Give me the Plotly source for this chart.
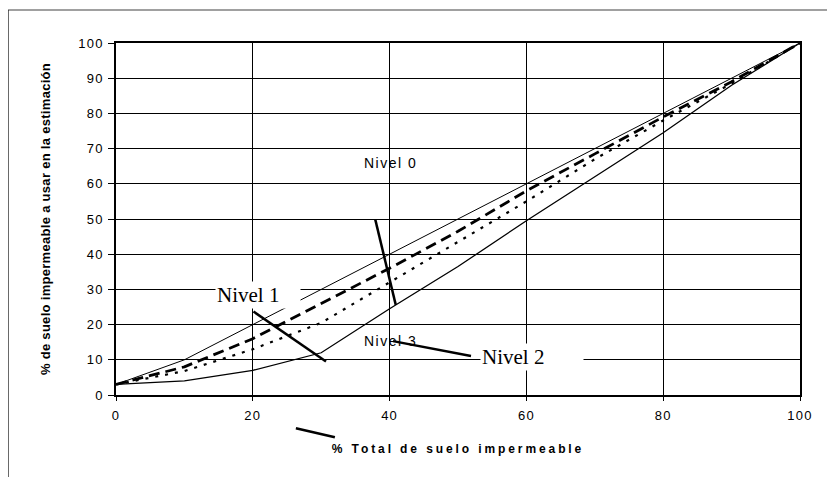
import plotly.graph_objects as go

x_vals = [0, 10, 20, 30, 40, 50, 60, 70, 80, 90, 100]
nivel0 = [3, 10, 20, 30, 40, 50, 60, 70, 80, 90, 100]
nivel1 = [3, 8, 16, 26, 36, 46.5, 58, 68.5, 79, 89, 100]
nivel2 = [3, 6.8, 13, 20.5, 32, 43.5, 55, 67, 78, 88.5, 100]
nivel3 = [3, 4, 7, 12, 24.5, 36.5, 49.5, 62, 74.5, 88, 100]

x_ticks = [0, 20, 40, 60, 80, 100]
y_ticks = [0, 10, 20, 30, 40, 50, 60, 70, 80, 90, 100]


def spaced(t, ls):
    return f'<span style="letter-spacing:{ls}px">{t}</span>'


fig = go.Figure()
fig.add_trace(go.Scatter(x=x_vals, y=nivel0, mode="lines", name="Nivel 0",
                         line=dict(color="black", width=1)))
fig.add_trace(go.Scatter(x=x_vals, y=nivel1, mode="lines", name="Nivel 1",
                         line=dict(color="black", width=2.8, dash="11px,6px")))
fig.add_trace(go.Scatter(x=x_vals, y=nivel2, mode="lines", name="Nivel 2",
                         line=dict(color="black", width=2.2, dash="3px,7px")))
fig.add_trace(go.Scatter(x=x_vals, y=nivel3, mode="lines", name="Nivel 3",
                         line=dict(color="black", width=1.3)))

serif = dict(family="Liberation Serif", size=21, color="black")
sans = dict(family="Liberation Sans", size=14, color="black")
annotations = [
    dict(x=40.2, y=65.9, text=spaced("Nivel 0", 1.5), font=sans, showarrow=False,
         xref="x", yref="y", xanchor="center", yanchor="middle"),
    dict(x=14.4, y=28.4, text="Nivel 1", font=serif, showarrow=False,
         xref="x", yref="y", xanchor="left", yanchor="middle",
         bgcolor="white", width=82, align="left"),
    dict(x=40.2, y=15.3, text=spaced("Nivel 3", 1.5), font=sans, showarrow=False,
         xref="x", yref="y", xanchor="center", yanchor="middle"),
    dict(x=53.2, y=10.8, text="Nivel 2", font=serif, showarrow=False,
         xref="x", yref="y", xanchor="left", yanchor="middle",
         bgcolor="white", width=100, align="left"),
]

shapes = [
    dict(type="line", xref="x", yref="y", x0=37.9, y0=49.9, x1=40.9, y1=25.6,
         line=dict(color="black", width=2.5)),
    dict(type="line", xref="x", yref="y", x0=20.1, y0=23.7, x1=30.7, y1=9.5,
         line=dict(color="black", width=2.5)),
    dict(type="line", xref="x", yref="y", x0=40.5, y0=15.3, x1=51.9, y1=11.1,
         line=dict(color="black", width=2.5)),
    dict(type="line", xref="paper", yref="paper", x0=0.263, y0=-0.0946, x1=0.320, y1=-0.120,
         line=dict(color="black", width=2.5)),
    # outer frame
    dict(type="line", xref="paper", yref="paper", x0=-0.158, y0=1.0937, x1=1.08, y1=1.0937,
         line=dict(color="#808080", width=1.5)),
    dict(type="line", xref="paper", yref="paper", x0=-0.158, y0=1.0937, x1=-0.158, y1=-0.28,
         line=dict(color="#222222", width=1.5)),
]

fig.update_layout(
    width=835, height=477,
    margin=dict(l=108, r=43, t=35, b=90),
    paper_bgcolor="white", plot_bgcolor="white",
    showlegend=False,
    annotations=annotations,
    shapes=shapes,
    font=dict(family="Liberation Sans", size=12, color="black"),
)
fig.update_xaxes(
    range=[0, 100], tickvals=x_ticks, ticktext=[spaced(str(v), 1.2) for v in x_ticks],
    showgrid=True, gridcolor="black", gridwidth=1,
    showline=True, linecolor="black", linewidth=1.5, mirror=True,
    ticks="outside", ticklen=4, tickcolor="black", ticklabelstandoff=4,
    zeroline=False, automargin=False,
    tickfont=dict(family="Liberation Sans", size=13, color="black"),
    title=dict(text=spaced("<b>% Total de suelo impermeable</b>", 2.9),
               font=dict(family="Liberation Sans", size=12, color="black"),
               standoff=22),
)
fig.update_yaxes(
    range=[0, 100], tickvals=y_ticks, ticktext=[spaced(str(v), 1.2) for v in y_ticks],
    showgrid=True, gridcolor="black", gridwidth=1,
    showline=True, linecolor="black", linewidth=1.5, mirror=True,
    ticks="outside", ticklen=6, tickcolor="black", ticklabelstandoff=2,
    zeroline=False, automargin=False,
    tickfont=dict(family="Liberation Sans", size=13, color="black"),
    title=dict(text=spaced("<b>% de suelo impermeable a usar en la estimación</b>", 0.3),
               font=dict(family="Liberation Sans", size=13, color="black"),
               standoff=25),
)

fig.write_html("out.html")
